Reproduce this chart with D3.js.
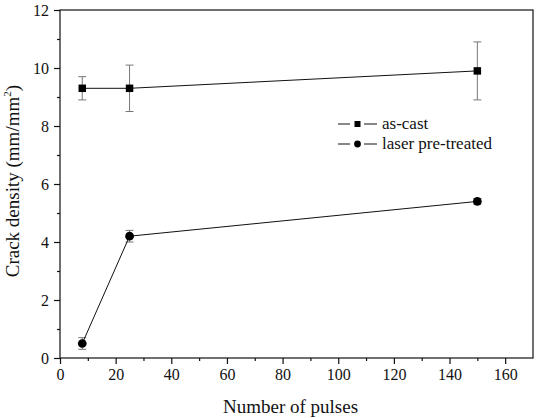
<!DOCTYPE html>
<html>
<head>
<meta charset="utf-8">
<script src="https://cdn.jsdelivr.net/npm/d3@7"></script>
<style>
  body { margin: 0; background: #fff; }
  svg text { font-family: "Liberation Serif", "Times New Roman", Times, serif !important; fill: #111; }
</style>
</head>
<body>
<svg id="chart"></svg>
<script>
// Data
var pulses = [8, 25, 150];
var asCast = [9.3, 9.3, 9.9];
var asCastErr = [0.4, 0.8, 1.0];
var laser = [0.5, 4.2, 5.4];
var laserErr = [0.2, 0.2, 0.1];
var seriesNames = ["as-cast", "laser pre-treated"];
var xTicks = [0, 20, 40, 60, 80, 100, 120, 140, 160];
var yTicks = [0, 2, 4, 6, 8, 10, 12];

var width = 538, height = 418;
var margin = {top: 10, right: 5, bottom: 60, left: 60};

var svg = d3.select("#chart")
  .attr("width", width)
  .attr("height", height);

var x = d3.scaleLinear().domain([0, 170]).range([margin.left, width - margin.right]);
var y = d3.scaleLinear().domain([0, 12]).range([height - margin.bottom, margin.top]);

// frame
svg.append("rect")
  .attr("x", x(0)).attr("y", y(12))
  .attr("width", x(170) - x(0)).attr("height", y(0) - y(12))
  .attr("fill", "none").attr("stroke", "#111").attr("stroke-width", 1.2);

// axes
var xAxis = svg.append("g")
  .attr("transform", "translate(0," + y(0) + ")")
  .call(d3.axisBottom(x).tickValues(xTicks).tickSize(6).tickPadding(5));
var xMinor = svg.append("g")
  .attr("transform", "translate(0," + y(0) + ")")
  .call(d3.axisBottom(x).tickValues(d3.range(10, 170, 20)).tickSize(3).tickFormat(""));
var yAxis = svg.append("g")
  .attr("transform", "translate(" + x(0) + ",0)")
  .call(d3.axisLeft(y).tickValues(yTicks).tickSize(6).tickPadding(5));
var yMinor = svg.append("g")
  .attr("transform", "translate(" + x(0) + ",0)")
  .call(d3.axisLeft(y).tickValues(d3.range(1, 12, 2)).tickSize(3).tickFormat(""));

[xAxis, xMinor, yAxis, yMinor].forEach(function(g){
  g.attr("font-family", null).attr("font-size", null);
  g.select(".domain").remove();
  g.selectAll("line").attr("stroke", "#111").attr("stroke-width", 1.2);
  g.selectAll("text").attr("font-size", 16).attr("fill", "#111");
});

// axis titles
svg.append("text")
  .attr("x", (x(0) + x(170)) / 2 - 6)
  .attr("y", 413)
  .attr("text-anchor", "middle")
  .attr("font-size", 19)
  .text("Number of pulses");

var yt = svg.append("text")
  .attr("transform", "translate(19," + y(6.1) + ") rotate(-90)")
  .attr("text-anchor", "middle")
  .attr("font-size", 19);
yt.append("tspan").text("Crack density (mm/mm");
yt.append("tspan").attr("font-size", 11).attr("dy", -8).text("2");
yt.append("tspan").attr("dy", 8).text(")");

// series
var series = [
  {vals: asCast, err: asCastErr, shape: d3.symbolSquare},
  {vals: laser, err: laserErr, shape: d3.symbolCircle}
];

var line = d3.line()
  .x(function(d){ return x(d[0]); })
  .y(function(d){ return y(d[1]); });

series.forEach(function(s){
  var pts = pulses.map(function(p, i){ return [p, s.vals[i], s.err[i]]; });

  // error bars
  var eb = svg.append("g").attr("stroke", "#777").attr("stroke-width", 1);
  pts.forEach(function(d){
    eb.append("line").attr("x1", x(d[0])).attr("x2", x(d[0]))
      .attr("y1", y(d[1] - d[2])).attr("y2", y(d[1] + d[2]));
    [d[1] - d[2], d[1] + d[2]].forEach(function(v){
      eb.append("line").attr("x1", x(d[0]) - 4).attr("x2", x(d[0]) + 4)
        .attr("y1", y(v)).attr("y2", y(v));
    });
  });

  svg.append("path")
    .datum(pts)
    .attr("d", line)
    .attr("fill", "none")
    .attr("stroke", "#111")
    .attr("stroke-width", 1);

  svg.selectAll(null)
    .data(pts)
    .enter()
    .append("path")
    .attr("transform", function(d){ return "translate(" + x(d[0]) + "," + y(d[1]) + ")"; })
    .attr("d", d3.symbol().type(s.shape).size(s.shape === d3.symbolSquare ? 56 : 60))
    .attr("fill", "#000");
});

// legend
var legend = svg.append("g").attr("transform", "translate(338,124)");
seriesNames.forEach(function(name, i){
  var g = legend.append("g").attr("transform", "translate(0," + (i * 20) + ")");
  g.append("line").attr("x1", 0).attr("x2", 12).attr("stroke", "#111");
  g.append("line").attr("x1", 26).attr("x2", 39).attr("stroke", "#111");
  g.append("path")
    .attr("transform", "translate(19.5,0)")
    .attr("d", d3.symbol().type(series[i].shape).size(36))
    .attr("fill", "#000");
  g.append("text").attr("x", 44).attr("y", 5).attr("font-size", 17).text(name);
});
</script>
</body>
</html>
